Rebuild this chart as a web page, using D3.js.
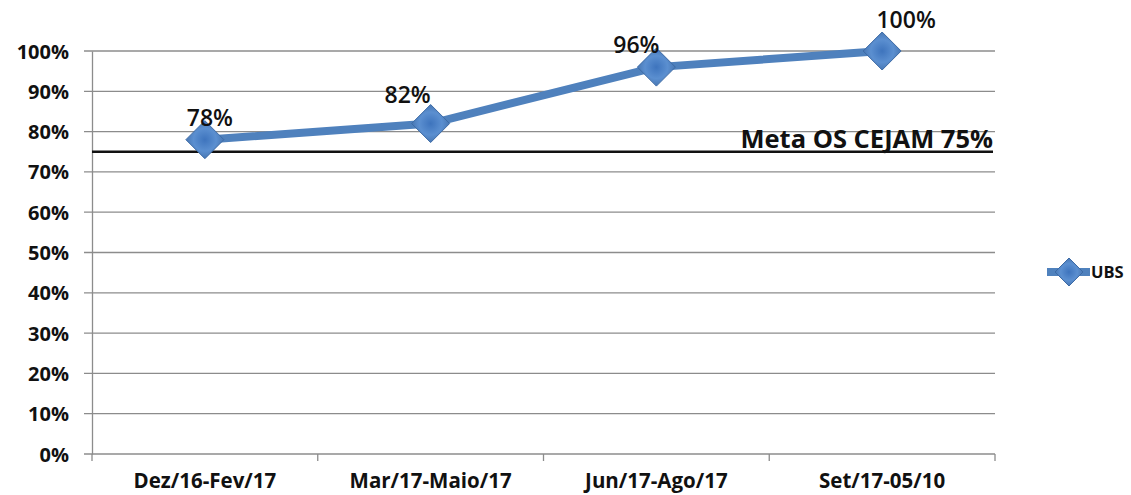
<!DOCTYPE html>
<html>
<head>
<meta charset="utf-8">
<script src="https://cdn.jsdelivr.net/npm/d3@7/dist/d3.min.js"></script>
<style>
  body { margin: 0; background: #fff; }
  text { font-family: "Open Sans", sans-serif; }
</style>
</head>
<body>
<script>
// dados do grafico
var categorias = ["Dez/16-Fev/17", "Mar/17-Maio/17", "Jun/17-Ago/17", "Set/17-05/10"];
var valoresUBS = [0.78, 0.82, 0.96, 1.00];
var yTicks = [0, 0.1, 0.2, 0.3, 0.4, 0.5, 0.6, 0.7, 0.8, 0.9, 1.0];
var meta = 0.75;
var metaTexto = "Meta OS CEJAM 75%";
var serieNome = "UBS";

// ajustes manuais das etiquetas (como no Excel)
var labelDx = [5, -23, -20, 24];
var labelDy = [-23, -30, -23, -32];

var w = 1131, h = 495;
var mLeft = 92, mRight = 995, mTop = 51, mBottom = 454;
var azul = "#4f81bd";
var fonte = "'Open Sans', sans-serif";

var svg = d3.select("body").append("svg")
  .attr("width", w).attr("height", h);

var defs = svg.append("defs");
var grad = defs.append("radialGradient").attr("id", "diam");
grad.append("stop").attr("offset", "0%").attr("stop-color", "#3e74bd");
grad.append("stop").attr("offset", "60%").attr("stop-color", "#5b8fd0");
grad.append("stop").attr("offset", "100%").attr("stop-color", "#4877b3");

var x = d3.scaleBand().domain(categorias).range([mLeft, mRight]);
var y = d3.scaleLinear().domain([0, 1]).range([mBottom, mTop]);

// grade horizontal
svg.append("g").selectAll("line").data(yTicks).enter().append("line")
  .attr("x1", mLeft - 8).attr("x2", mRight)
  .attr("y1", function(d) { return y(d); })
  .attr("y2", function(d) { return y(d); })
  .attr("stroke", "#8c8c8c").attr("stroke-width", 1.3);

// eixo y
var ay = svg.append("g").attr("transform", "translate(" + mLeft + ",0)")
  .call(d3.axisLeft(y).tickValues(yTicks).tickSize(0).tickPadding(23)
    .tickFormat(d3.format(".0%")));
ay.select(".domain").attr("stroke", "#8c8c8c").attr("stroke-width", 1.3);
ay.selectAll("text").attr("font-size", 20).attr("font-weight", "bold")
  .attr("fill", "#111").attr("font-family", fonte).attr("dy", "0.35em");

// eixo x
var ax = svg.append("g").attr("transform", "translate(0," + mBottom + ")")
  .call(d3.axisBottom(x).tickSize(0).tickPadding(19));
ax.select(".domain").attr("stroke", "none");
ax.selectAll("text").attr("font-size", 20.5).attr("font-weight", "bold")
  .attr("fill", "#111").attr("font-family", fonte);
var divisoes = categorias.map(function(c) { return x(c); }).concat([mRight]);
svg.append("g").selectAll("line").data(divisoes).enter().append("line")
  .attr("x1", function(d) { return d; }).attr("x2", function(d) { return d; })
  .attr("y1", mBottom).attr("y2", mBottom + 7)
  .attr("stroke", "#8c8c8c").attr("stroke-width", 1.3);

// linha da meta
svg.append("line")
  .attr("x1", mLeft).attr("x2", mRight - 2)
  .attr("y1", y(meta)).attr("y2", y(meta))
  .attr("stroke", "#111").attr("stroke-width", 2.5);
svg.append("text").text(metaTexto)
  .attr("x", mRight - 2).attr("y", y(meta) - 4)
  .attr("text-anchor", "end").attr("font-size", 25.5).attr("font-weight", "bold")
  .attr("fill", "#111");

// serie UBS
var cx = function(i) { return x(categorias[i]) + x.bandwidth() / 2; };
var linha = d3.line()
  .x(function(d, i) { return cx(i); })
  .y(function(d) { return y(d); });
svg.append("path").datum(valoresUBS)
  .attr("d", linha).attr("fill", "none")
  .attr("stroke", azul).attr("stroke-width", 8).attr("stroke-linejoin", "round");

function diamante(g, px, py, r) {
  g.append("path")
    .attr("d", "M" + px + "," + (py - r) + "L" + (px + r) + "," + py + "L" + px + "," + (py + r) + "L" + (px - r) + "," + py + "Z")
    .attr("fill", "url(#diam)").attr("stroke", "#3c6aa5").attr("stroke-width", 1);
}
var marcas = svg.append("g");
valoresUBS.forEach(function(v, i) { diamante(marcas, cx(i), y(v), 19); });

// etiquetas
svg.append("g").selectAll("text").data(valoresUBS).enter().append("text")
  .text(function(d) { return d3.format(".0%")(d); })
  .attr("x", function(d, i) { return cx(i) + labelDx[i]; })
  .attr("y", function(d, i) { return y(d) + labelDy[i] + 9; })
  .attr("text-anchor", "middle").attr("font-size", 23).attr("font-weight", 600)
  .attr("fill", "#111");

// legenda
var lg = svg.append("g");
lg.append("line").attr("x1", 1047).attr("x2", 1090).attr("y1", 272).attr("y2", 272)
  .attr("stroke", azul).attr("stroke-width", 8);
diamante(lg, 1069, 272, 14);
lg.append("text").text(serieNome).attr("x", 1091).attr("y", 278)
  .attr("font-size", 16.5).attr("font-weight", "bold").attr("fill", "#111");
</script>
</body>
</html>
